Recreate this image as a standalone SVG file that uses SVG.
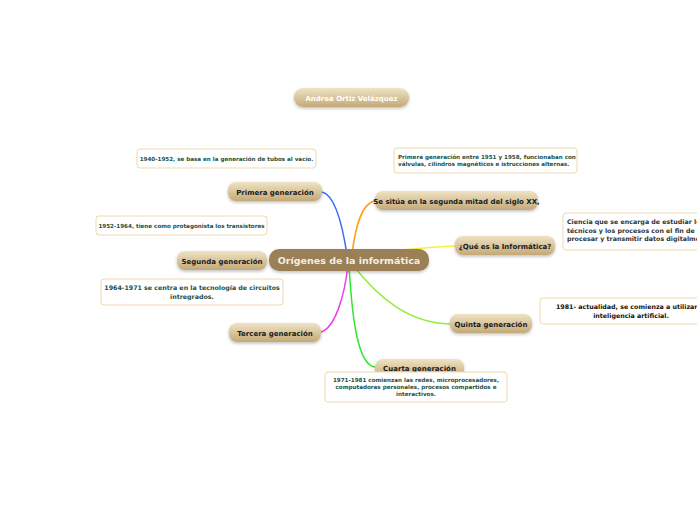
<svg xmlns="http://www.w3.org/2000/svg" width="697" height="520" viewBox="0 0 697 520">
<defs>
<linearGradient id="tan" x1="0" y1="0" x2="0" y2="1">
<stop offset="0" stop-color="#efe3c5"/>
<stop offset="1" stop-color="#c4a977"/>
</linearGradient>
<filter id="sh" x="-20%" y="-40%" width="140%" height="200%">
<feDropShadow dx="0" dy="1.5" stdDeviation="1.5" flood-color="#000" flood-opacity="0.25"/>
</filter>
</defs>
<style>
.n{fill:url(#tan);filter:url(#sh)}
.nt{font-family:"DejaVu Sans",Verdana,sans-serif;font-weight:bold;font-size:7px;fill:#1a1a1a;text-anchor:middle}
.b{fill:#fff;stroke:#ecd9ae;stroke-width:1}
.bt{font-family:"DejaVu Sans",Verdana,sans-serif;font-weight:bold;font-size:5.6px;fill:#24503f}
.c{fill:none;stroke-width:1.5}
</style>
<rect width="697" height="520" fill="#fff"/>
<g id="connectors">
<path class="c" stroke="#3b6cf5" d="M322 192 C335 195 343 225 348 262"/>
<path class="c" stroke="#ff9f1c" d="M375 201 C362 203 355 225 351 262"/>
<path class="c" stroke="#f5f23c" d="M400 250 C430 248 440 246 455 246"/>
<path class="c" stroke="#90ee3c" d="M352 264 C380 300 410 323 450 324"/>
<path class="c" stroke="#2ee82e" d="M349 264 C352 320 358 365 375 367"/>
<path class="c" stroke="#f03cf0" d="M348 264 C345 295 335 328 321 332"/>
</g>
<g id="title"><rect class="n" x="294" y="88" width="115" height="19" rx="9"/><text x="351.5" y="100.5" class="nt" style="fill:#fff">Andrea Ortiz Velázquez</text></g>
<g id="central"><rect x="269" y="249" width="160" height="22" rx="10" fill="#9b7f57" filter="url(#sh)"/><text x="349" y="263.5" style="font-family:'DejaVu Sans',Verdana,sans-serif;font-weight:bold;font-size:9.5px;fill:#f4efe4;text-anchor:middle">Orígenes de la informática</text></g>
<g id="primera"><rect class="n" x="228" y="182" width="94" height="19" rx="8"/><text x="275" y="194.5" class="nt">Primera generación</text></g>
<g id="situa"><rect class="n" x="375" y="191" width="163" height="19" rx="8"/><text x="456.5" y="203.5" class="nt">Se sitúa en la segunda mitad del siglo XX,</text></g>
<g id="que"><rect class="n" x="455" y="236" width="100" height="19" rx="8"/><text x="505" y="248.5" class="nt">¿Qué es la Informática?</text></g>
<g id="segunda"><rect class="n" x="177" y="251" width="90" height="19" rx="8"/><text x="222" y="263.5" class="nt">Segunda generación</text></g>
<g id="quinta"><rect class="n" x="450" y="314" width="82" height="19" rx="8"/><text x="491" y="326.5" class="nt">Quinta generación</text></g>
<g id="tercera"><rect class="n" x="229" y="323" width="92" height="19" rx="8"/><text x="275" y="335.5" class="nt">Tercera generación</text></g>
<g id="cuarta"><rect class="n" x="375" y="359" width="89" height="19" rx="8"/><text x="419.5" y="371" class="nt">Cuarta generación</text></g>
<g id="t1940"><rect class="b" x="137" y="149" width="179" height="19" rx="3"/><text x="226.5" y="160.5" class="bt" text-anchor="middle">1940-1952, se basa en la generación de tubos al vacío.</text></g>
<g id="t1951"><rect class="b" x="394" y="148" width="183" height="25" rx="3"/><text class="bt" x="398"><tspan x="398" y="158.5">Primera generación entre 1951 y 1958, funcionaban con</tspan><tspan x="398" y="166">válvulas, cilindros magnéticos e istrucciones alternas.</tspan></text></g>
<g id="t1952"><rect class="b" x="96" y="216" width="171" height="19" rx="3"/><text x="181.5" y="227.5" class="bt" text-anchor="middle">1952-1964, tiene como protagonista los transistores</text></g>
<g id="tciencia"><rect class="b" x="563" y="213" width="160" height="37" rx="3"/><text class="bt" style="fill:#333;font-size:6.3px"><tspan x="567" y="224">Ciencia que se encarga de estudiar los métodos,</tspan><tspan x="567" y="232.5">técnicos y los procesos con el fin de almacenar,</tspan><tspan x="567" y="241">procesar y transmitir datos digitalmente.</tspan></text></g>
<g id="t1964"><rect class="b" x="101" y="279" width="182" height="26" rx="3"/><text class="bt" text-anchor="middle" style="font-size:6.3px"><tspan x="192" y="290">1964-1971 se centra en la tecnología de circuitos</tspan><tspan x="192" y="298.5">intregrados.</tspan></text></g>
<g id="t1981"><rect class="b" x="540" y="298" width="182" height="26" rx="3"/><text class="bt" text-anchor="middle" style="fill:#111;font-size:6.3px"><tspan x="631" y="309">1981- actualidad, se comienza a utilizar la</tspan><tspan x="631" y="317.5">inteligencia artificial.</tspan></text></g>
<g id="t1971"><rect class="b" x="325" y="372" width="182" height="30" rx="3"/><text class="bt" text-anchor="middle"><tspan x="416" y="382">1971-1981 comienzan las redes, microprocesadores,</tspan><tspan x="416" y="389">computadoras personales, procesos compartidos e</tspan><tspan x="416" y="396">interactivos.</tspan></text></g>
</svg>
